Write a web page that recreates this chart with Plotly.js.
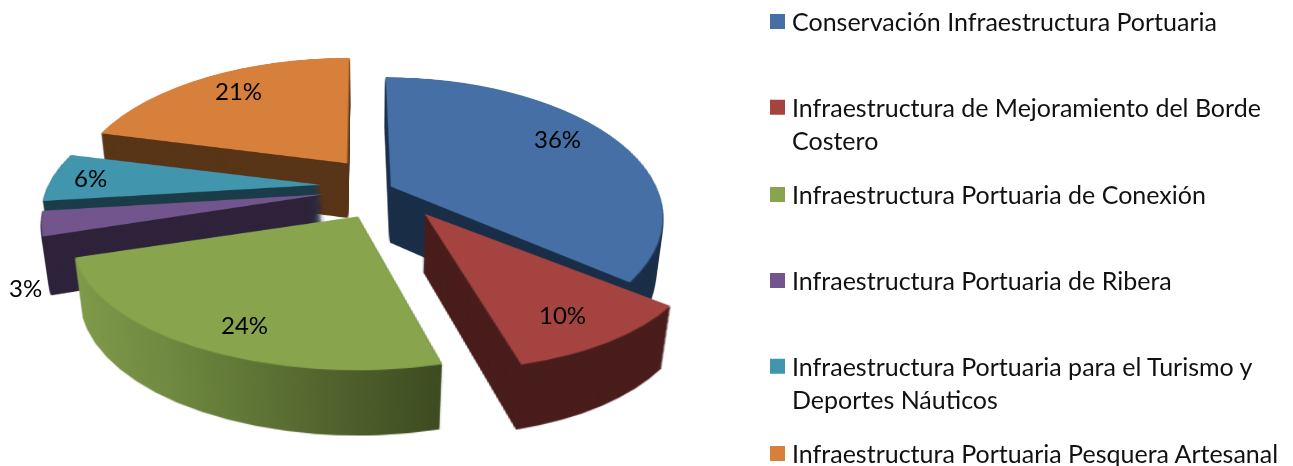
<!DOCTYPE html>
<html>
<head>
<meta charset="utf-8">
<script src="https://cdn.plot.ly/plotly-3.0.1.min.js"></script>
<style>html,body{margin:0;padding:0;background:#fff;overflow:hidden}#chart{width:1293px;height:466px}</style>
</head>
<body>
<div id="chart"></div>
<script>
const categories = [
  "Conservación Infraestructura Portuaria",
  "Infraestructura de Mejoramiento del Borde<br>Costero",
  "Infraestructura Portuaria de Conexión",
  "Infraestructura Portuaria de Ribera",
  "Infraestructura Portuaria para el Turismo y<br>Deportes Náuticos",
  "Infraestructura Portuaria Pesquera Artesanal"
];
const values = [36, 10, 24, 3, 6, 21];
const topColors = ["#4670a5", "#a54341", "#88a54d", "#71558c", "#4195ad", "#d7803b"];
const sideColors = ["#192d47", "#481c1a", "#5f7436", "#2d2239", "#1a3c48", "#583417"];
const pulls = [0.12, 0.22, 0.2, 0.14, 0.14, 0.12];
// per-slice placement correction on screen, and where on screen it is evaluated
const nudgeX = [2, 35, 28, 2, 0, 9];
const nudgeY = [0, -5, 0, -3, -7, -15];
const anchorX = [520, 510, 230, 180, 170, 230];
const anchorY = [180, 300, 310, 225, 190, 130];
// perspective foreshortening differs by slice in the reference
const stretchX = [1, 0.98, 1.01, 1.03, 1.03, 1.046];
const stretchY = [1.04, 0.93, 0.91, 1, 1, 1.08];
const labelX = [557, 562, 244, 25, 90, 238];
const labelY = [138, 314, 324, 287, 178, 90];
const legendY = [21.5, 107.5, 194.5, 280.5, 366.5, 453.5];

const W = 1293, H = 466;
const LAYERS = 54, DEPTH_Z = 66, PERSP = 1206, TILT = 61.3;
const DOM_X = [0, 0.4], DOM_Y = [0.02, 0.98];

const traces = [];
for (let k = LAYERS; k >= 0; k--) {
  traces.push({
    type: "pie", labels: categories, values: values, pull: pulls,
    sort: false, direction: "clockwise", rotation: 0,
    textinfo: "none", hoverinfo: "skip", showlegend: k === 0,
    domain: {x: DOM_X, y: DOM_Y},
    marker: {colors: k === 0 ? topColors : sideColors, line: {width: 0}}
  });
}

const annotations = values.map((v, i) => ({
  text: v + "%", xref: "paper", yref: "paper",
  x: labelX[i] / W, y: 1 - labelY[i] / H,
  xanchor: "center", yanchor: "middle", showarrow: false,
  font: {family: "Lato, Carlito, sans-serif", size: 24, color: "#000"}
}));

const layout = {
  width: W, height: H, margin: {l: 0, r: 0, t: 0, b: 0},
  paper_bgcolor: "rgba(0,0,0,0)", plot_bgcolor: "rgba(0,0,0,0)",
  annotations: annotations,
  showlegend: true,
  legend: {
    x: 752 / W, y: 1, xanchor: "left", yanchor: "top",
    valign: "top", bgcolor: "rgba(0,0,0,0)", borderwidth: 0,
    font: {family: "Lato, Carlito, sans-serif", size: 25, color: "#111"}
  }
};

Plotly.newPlot("chart", traces, layout, {displayModeBar: false}).then(() => {
  const gd = document.getElementById("chart");
  const svgs = gd.querySelectorAll(".main-svg");
  const pieSvg = svgs[0];
  const container = pieSvg.parentNode;

  const NS = "http://www.w3.org/2000/svg";
  const defs = pieSvg.querySelector("defs") || pieSvg.insertBefore(document.createElementNS(NS, "defs"), pieSvg.firstChild);
  const grad = document.createElementNS(NS, "linearGradient");
  grad.id = "greenWall";
  [["0", "#7f9a49"], ["0.3", "#6f8a40"], ["0.65", "#566a30"], ["1", "#3d4a20"]].forEach(([o, c]) => {
    const s = document.createElementNS(NS, "stop");
    s.setAttribute("offset", o); s.setAttribute("stop-color", c);
    grad.appendChild(s);
  });
  defs.appendChild(grad);

  const cxPre = (DOM_X[0] + DOM_X[1]) / 2 * W;
  const cyPre = (1 - (DOM_Y[0] + DOM_Y[1]) / 2) * H;
  const R = (DOM_Y[1] - DOM_Y[0]) * H / 2 / (1 + Math.max(...pulls));
  const S = 268 / R;
  const targetX = 360, targetY = 193;
  const sinA = Math.sin(TILT * Math.PI / 180), cosA = Math.cos(TILT * Math.PI / 180);

  function toPlane(X, Y) {
    const dy = Y - targetY, dx = X - targetX;
    const v = dy * PERSP / (PERSP * cosA + dy * sinA);
    return [dx * (PERSP - v * sinA) / PERSP, v];
  }
  const total = values.reduce((a, b) => a + b, 0);
  let cum = 0;
  const sliceTransforms = values.map((val, i) => {
    const a = toPlane(anchorX[i], anchorY[i]);
    const b = toPlane(anchorX[i] + nudgeX[i], anchorY[i] + nudgeY[i]);
    const tx = (b[0] - a[0]) / S, ty = (b[1] - a[1]) / S;
    const mid = (cum + val / 2) / total * 2 * Math.PI;
    cum += val;
    const ax = cxPre + R * pulls[i] * Math.sin(mid);
    const ay = cyPre - R * pulls[i] * Math.cos(mid);
    return "translate(" + (tx + ax) + "," + (ty + ay) + ") scale(" + stretchX[i] + "," + stretchY[i] + ") translate(" + (-ax) + "," + (-ay) + ")";
  });

  const pieTraces = Array.from(pieSvg.querySelectorAll(".pielayer .trace"));
  pieTraces.forEach(t => t.remove());
  const n = pieTraces.length;
  pieTraces.forEach((t, idx) => {
    const z = DEPTH_Z * (n - 1 - idx) / (n - 1);
    t.querySelectorAll(".slice").forEach((sl, i) => {
      sl.setAttribute("transform", sliceTransforms[i]);
    });
    if (idx < n - 1) {
      const sl = t.querySelectorAll(".slice path.surface")[2];
      if (sl) sl.style.fill = "url(#greenWall)";
    }
    const c = pieSvg.cloneNode(true);
    c.querySelector(".pielayer").appendChild(t);
    c.style.overflow = "visible";
    c.style.transformOrigin = cxPre + "px " + cyPre + "px";
    c.style.transform = "translate(" + (targetX - cxPre) + "px," + (targetY - cyPre) + "px) perspective(" + PERSP + "px) rotateX(" + TILT + "deg) translateZ(" + (-z) + "px) scale(" + S + ")";
    container.insertBefore(c, svgs[1]);
  });

  const items = gd.querySelectorAll(".legend .traces");
  const clip = gd.querySelector(".legend .scrollbox");
  if (clip) clip.removeAttribute("clip-path");
  const legendEl = gd.querySelector(".legend");
  const ly = legendEl.transform.baseVal.consolidate().matrix.f;
  items.forEach((it, i) => {
    const wrapped = categories[i].includes("<br>") ? 16 : 0;
    it.setAttribute("transform", "translate(0," + (legendY[i] + wrapped - ly) + ")");
    const sym = it.querySelector(".legendpie");
    if (sym) sym.setAttribute("d", "M7.5,7.5H-7.5V-7.5H7.5Z");
    const g = it.querySelector(".legendpoints");
    if (g) g.setAttribute("transform", "translate(5.5,0)");
  });
});
</script>
</body>
</html>
